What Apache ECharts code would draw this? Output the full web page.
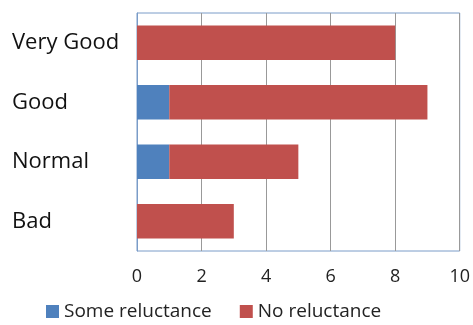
<!DOCTYPE html>
<html>
<head>
<meta charset="utf-8">
<script src="https://cdn.jsdelivr.net/npm/echarts@6/dist/echarts.min.js"></script>
<style>
  html, body { margin: 0; padding: 0; background: #fff; }
  #chart { width: 473px; height: 325px; }
</style>
</head>
<body>
<div id="chart"></div>
<script>
// categories listed bottom to top (ECharts category y axis starts at the bottom)
const categories = ['Bad', 'Normal', 'Good', 'Very Good'];
const someReluctance = [0, 1, 1, 0];
const noReluctance = [3, 4, 8, 8];
const xTicks = { min: 0, max: 10, interval: 2 };

const chart = echarts.init(document.getElementById('chart'));
const font = '"Open Sans", "Liberation Sans", sans-serif';

chart.setOption({
  animation: false,
  textStyle: { fontFamily: font },
  grid: {
    left: 137,
    right: 10,
    top: 13,
    bottom: 74,
    show: true,
    borderColor: '#7A9CC8',
    borderWidth: 1,
    backgroundColor: 'transparent',
  },
  legend: {
    bottom: -1,
    left: 41,
    itemWidth: 13,
    itemHeight: 13,
    itemGap: 28,
    icon: 'rect',
    textStyle: { fontSize: 19, color: '#222', fontFamily: font },
    data: ['Some reluctance', 'No reluctance'],
  },
  xAxis: {
    type: 'value',
    min: xTicks.min,
    max: xTicks.max,
    interval: xTicks.interval,
    axisLine: { show: false },
    axisTick: { show: false },
    splitLine: { show: true, lineStyle: { color: '#999', width: 1 } },
    axisLabel: { fontSize: 18, color: '#222', margin: 17, fontFamily: font },
  },
  yAxis: {
    type: 'category',
    data: categories,
    axisLine: { show: true, lineStyle: { color: '#7A9CC8' } },
    axisTick: { show: false },
    axisLabel: { fontSize: 22, color: '#111', align: 'left', margin: 125, fontFamily: font },
  },
  series: [
    {
      name: 'Some reluctance',
      type: 'bar',
      stack: 'total',
      barWidth: '58%',
      itemStyle: { color: '#4F81BD' },
      data: someReluctance,
    },
    {
      name: 'No reluctance',
      type: 'bar',
      stack: 'total',
      barWidth: '58%',
      itemStyle: { color: '#C0504D' },
      data: noReluctance,
    },
  ],
});
</script>
</body>
</html>
